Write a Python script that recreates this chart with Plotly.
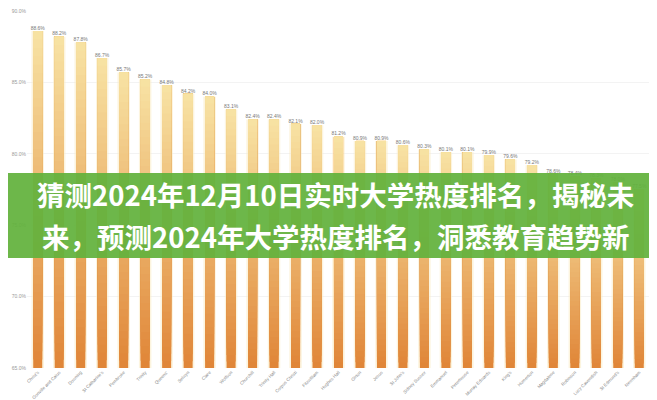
import plotly.graph_objects as go
from plotly.subplots import make_subplots

colleges = ["Christ's", "Gonville and Caius", "Downing", "St Catharine's", "Pembroke",
            "Trinity", "Queens'", "Selwyn", "Clare", "Wolfson", "Churchill", "Trinity Hall",
            "Corpus Christi", "Fitzwilliam", "Hughes Hall", "Girton", "Jesus", "St John's",
            "Sidney Sussex", "Emmanuel", "Peterhouse", "Murray Edwards", "King's", "Homerton",
            "Magdalene", "Robinson", "Lucy Cavendish", "St Edmund's", "Newnham"]
values = [88.6, 88.2, 87.8, 86.7, 85.7, 85.2, 84.8, 84.2, 84.0, 83.1, 82.4, 82.4,
          82.1, 82.0, 81.2, 80.9, 80.9, 80.6, 80.3, 80.1, 80.1, 79.9, 79.6, 79.2,
          78.6, 78.4, 78.3, 78.0, 77.5]
left_tick_vals = [65, 70, 75, 80, 85, 90]
left_tick_text = ["65.0%", "70.0%", "75.0%", "80.0%", "85.0%", "90.0%"]
right_tick_vals = [0, 0.1, 0.2, 0.3, 0.4, 0.5, 0.6, 0.7, 0.8, 0.9, 1]
right_tick_text = ["0", "0.1", "0.2", "0.3", "0.4", "0.5", "0.6", "0.7", "0.8", "0.9", "1"]
title_lines = ["猜测2024年12月10日实时大学热度排名，揭秘未",
               "来，预测2024年大学热度排名，洞悉教育趋势新"]

AXIS_MIN = 65
N = 40
bottom_rgb = (224, 134, 56)
top_rgb = (248, 228, 165)


def mix(t):
    r, g, b = (round(bottom_rgb[i] + (top_rgb[i] - bottom_rgb[i]) * t) for i in range(3))
    return f"rgb({r},{g},{b})"


fig = make_subplots(specs=[[{"secondary_y": True}]])

# pale halo behind bars
fig.add_trace(go.Bar(
    x=colleges, y=[v - AXIS_MIN for v in values], base=[AXIS_MIN] * len(values),
    width=0.58, marker=dict(color="rgba(250,235,195,0.55)", line=dict(width=0)),
    hoverinfo="skip"), secondary_y=False)

# gradient bars, drawn bottom-up so each layer covers the upper part
for k in range(N):
    t = k / N
    bases = [AXIS_MIN + (v - AXIS_MIN) * t for v in values]
    heights = [v - b for v, b in zip(values, bases)]
    fig.add_trace(go.Bar(
        x=colleges, y=heights, base=bases, width=0.42,
        marker=dict(color=mix(t), line=dict(width=0)), hoverinfo="skip"),
        secondary_y=False)

# value labels
fig.add_trace(go.Scatter(
    x=colleges, y=values, mode="text", text=[f"{v:.1f}%" for v in values],
    textposition="top center", textfont=dict(size=5, color="#777"),
    cliponaxis=False, hoverinfo="skip"), secondary_y=False)

# secondary axis (0-1 scale) - invisible trace so the right axis exists
fig.add_trace(go.Scatter(x=colleges, y=[0] * len(colleges), mode="markers",
                         marker=dict(size=1, color="rgba(255,255,255,0)"),
                         hoverinfo="skip"), secondary_y=True)

W, H = 657, 400
ml, mr, mt, mb = 19, 15, 3, 40
pw, ph = W - ml - mr, H - mt - mb


def px_to_paper_y(py):
    return (H - mb - py) / ph


def px_to_paper_x(px):
    return (px - ml) / pw


fig.add_shape(type="rect", xref="paper", yref="paper",
              x0=px_to_paper_x(-5), x1=px_to_paper_x(W + 5),
              y0=px_to_paper_y(250), y1=px_to_paper_y(165),
              fillcolor="rgba(98,178,60,0.93)", line=dict(width=0), layer="above")

# right-axis tick labels, positioned on the secondary y scale
for tv, tt in zip(right_tick_vals, right_tick_text):
    fig.add_annotation(text=tt, xref="paper", yref="y2", x=px_to_paper_x(646), y=tv,
                       showarrow=False, xanchor="left", yanchor="middle",
                       font=dict(size=5, color="#999"))

for line, py in zip(title_lines, [186, 228]):
    fig.add_annotation(text=f"<b>{line}</b>", xref="paper", yref="paper",
                       x=px_to_paper_x(327), y=px_to_paper_y(py),
                       showarrow=False, xanchor="center", yanchor="middle",
                       font=dict(family="Noto Sans CJK SC", size=27.5, color="white"))

fig.update_layout(
    width=W, height=H, margin=dict(l=ml, r=mr, t=mt, b=mb),
    plot_bgcolor="white", paper_bgcolor="white", showlegend=False,
    barmode="overlay", bargap=0.5,
    font=dict(family="Liberation Sans", color="#888"),
)
fig.update_xaxes(domain=[0, 1], tickangle=-45,
                 tickfont=dict(size=4.5, color="#888"),
                 showgrid=False, categoryorder="array", categoryarray=colleges,
                 range=[-0.5, len(colleges) - 0.5], ticks="", showline=False,
                 automargin=False)
fig.update_yaxes(range=[65, 90], tickvals=left_tick_vals, ticktext=left_tick_text,
                 tickfont=dict(size=5, color="#999"), gridcolor="#f3f3f3",
                 zeroline=False, showline=False, ticks="", automargin=False,
                 ticklabeloverflow="allow", secondary_y=False)
fig.update_yaxes(range=[0, 1], showticklabels=False, showgrid=False, zeroline=False,
                 showline=False, ticks="", automargin=False, secondary_y=True)

fig.write_html("out.html")
